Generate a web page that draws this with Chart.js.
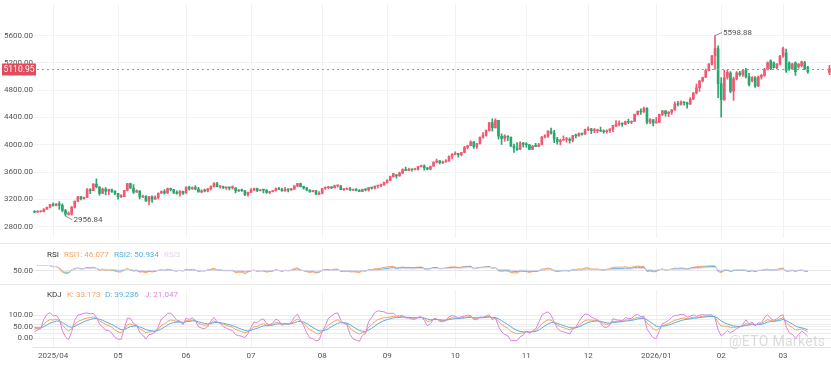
<!DOCTYPE html>
<html>
<head>
<meta charset="utf-8">
<script src="https://cdn.jsdelivr.net/npm/chart.js@4.4.1/dist/chart.umd.min.js"></script>
<style>
  body { margin: 0; background: #fff; font-family: Roboto, Arial, sans-serif; }
  #wrap { position: relative; width: 831px; height: 367px; overflow: hidden; }
  .pane { position: absolute; left: 0; width: 831px; }
  #mainPane { top: 0; height: 243px; border-bottom: 1px solid #e6e6e6; }
  #rsiPane { top: 244px; height: 40px; border-bottom: 1px solid #e6e6e6; }
  #kdjPane { top: 285px; height: 82px; }
  .legend { position: absolute; height: 10px; line-height: 10px; font-size: 8px; white-space: nowrap; }
  .legend span { position: absolute; top: 0; }
  #mark { position: absolute; left: 729px; top: 333px; font-size: 14px; color: rgba(175,175,175,0.45); letter-spacing: 0.3px; }
</style>
</head>
<body>
<div id="wrap">
  <div class="pane" id="mainPane"><canvas id="mainChart"></canvas></div>
  <div class="pane" id="rsiPane"><canvas id="rsiChart"></canvas></div>
  <div class="pane" id="kdjPane"><canvas id="kdjChart"></canvas></div>
  <div class="legend" id="rsiLegend" style="top:250px;left:0;width:300px"></div>
  <div class="legend" id="kdjLegend" style="top:290px;left:0;width:300px"></div>
  <div id="mark">@ETO Markets</div>
</div>
<script>
// daily candles: [day, open, high, low, close]
const m2503 = [
  [24,3023,3036,3004,3011],[25,3011,3035,3011,3019],[26,3019,3032,3012,3019],
  [27,3019,3060,3015,3057],[28,3057,3087,3054,3084],[31,3084,3128,3076,3124]
];
const m2504 = [
  [1,3124,3149,3100,3113],[2,3113,3138,3105,3134],[3,3134,3167,3054,3114],[4,3114,3136,3015,3037],
  [7,3037,3055,2956.84,2982],[8,2982,3018,2970,2982],[9,2982,3099,2970,3083],[10,3083,3176,3073,3175],
  [11,3175,3245,3166,3237],[14,3237,3245,3193,3211],[15,3211,3232,3202,3230],[16,3230,3357,3229,3343],
  [17,3343,3357,3284,3327],[21,3327,3430,3326,3424],[22,3424,3500,3367,3381],[23,3381,3386,3260,3288],
  [24,3288,3367,3287,3349],[25,3349,3371,3266,3319],[28,3319,3350,3268,3344],[29,3344,3352,3300,3317],
  [30,3317,3328,3268,3289]
];
const m2505 = [
  [1,3289,3290,3202,3240],[2,3240,3269,3223,3241],[5,3241,3334,3240,3334],[6,3334,3435,3323,3431],
  [7,3431,3438,3361,3365],[8,3365,3415,3286,3306],[9,3306,3340,3300,3325],[12,3325,3325,3207,3235],
  [13,3235,3264,3225,3249],[14,3249,3252,3171,3178],[15,3178,3245,3121,3240],[16,3240,3252,3154,3203],
  [19,3203,3250,3200,3230],[20,3230,3295,3205,3289],[21,3289,3326,3286,3314],[22,3314,3345,3277,3294],
  [23,3294,3366,3287,3357],[26,3357,3365,3324,3342],[27,3342,3347,3285,3300],[28,3300,3325,3277,3288],
  [29,3288,3330,3245,3318],[30,3318,3322,3271,3289]
];
const m2506 = [
  [2,3289,3382,3289,3381],[3,3381,3392,3333,3353],[4,3353,3385,3345,3374],[5,3374,3403,3339,3352],
  [6,3352,3375,3307,3310],[9,3310,3338,3293,3326],[10,3326,3349,3308,3323],[11,3323,3360,3310,3354],
  [12,3354,3398,3340,3386],[13,3386,3446,3378,3432],[16,3432,3451,3382,3385],[17,3385,3403,3365,3388],
  [18,3388,3395,3362,3369],[19,3369,3375,3347,3369],[20,3369,3374,3340,3368],[23,3368,3398,3348,3368],
  [24,3368,3369,3295,3323],[25,3323,3348,3311,3332],[26,3332,3350,3317,3327],[27,3327,3329,3255,3274],
  [30,3274,3308,3247,3303]
];
const m2507 = [
  [1,3303,3358,3299,3338],[2,3338,3365,3328,3357],[3,3357,3366,3311,3326],[4,3326,3342,3323,3337],
  [7,3337,3342,3296,3335],[8,3335,3345,3287,3301],[9,3301,3317,3282,3313],[10,3313,3330,3310,3325],
  [11,3325,3368,3322,3355],[14,3355,3375,3341,3343],[15,3343,3366,3320,3324],[16,3324,3377,3319,3347],
  [17,3347,3352,3310,3338],[18,3338,3361,3332,3350],[21,3350,3402,3345,3397],[22,3397,3433,3383,3431],
  [23,3431,3438,3381,3387],[24,3387,3394,3351,3368],[25,3368,3373,3324,3337],[28,3337,3345,3301,3314],
  [29,3314,3334,3308,3326],[30,3326,3334,3268,3275],[31,3275,3315,3268,3289]
];
const m2508 = [
  [1,3289,3363,3281,3363],[4,3363,3385,3347,3373],[5,3373,3390,3353,3380],[6,3380,3385,3358,3368],
  [7,3368,3408,3366,3397],[8,3397,3409,3380,3398],[11,3398,3404,3342,3342],[12,3342,3358,3331,3348],
  [13,3348,3370,3345,3355],[14,3355,3375,3330,3336],[15,3336,3346,3331,3336],[18,3336,3358,3323,3332],
  [19,3332,3345,3311,3315],[20,3315,3350,3312,3348],[21,3348,3351,3325,3339],[22,3339,3378,3321,3371],
  [25,3371,3376,3350,3365],[26,3365,3393,3352,3393],[27,3393,3398,3369,3397],[28,3397,3423,3385,3416],
  [29,3416,3453,3405,3448]
];
const m2509 = [
  [1,3448,3490,3436,3476],[2,3476,3540,3475,3533],[3,3533,3578,3525,3578],[4,3559,3564,3511,3545],
  [5,3545,3600,3541,3587],[8,3587,3647,3578,3636],[9,3636,3674,3622,3625],[10,3625,3658,3620,3641],
  [11,3641,3645,3613,3634],[12,3634,3656,3632,3643],[15,3643,3685,3627,3679],[16,3679,3703,3675,3689],
  [17,3689,3707,3627,3660],[18,3660,3664,3632,3644],[19,3644,3688,3630,3685],[22,3685,3749,3683,3746],
  [23,3746,3791,3735,3763],[24,3763,3768,3718,3736],[25,3736,3761,3722,3749],[26,3749,3782,3745,3760],
  [29,3760,3834,3758,3833],[30,3833,3872,3793,3858]
];
const m2510 = [
  [1,3858,3895,3850,3865],[2,3865,3875,3819,3856],[3,3856,3890,3837,3886],[6,3886,3977,3885,3960],
  [7,3960,3990,3940,3985],[8,3985,4059,3985,4041],[9,4041,4045,3945,3976],[10,3976,4022,3947,4018],
  [13,4018,4116,4009,4110],[14,4110,4180,4096,4142],[15,4142,4218,4124,4208],[16,4208,4326,4200,4326],
  [17,4326,4380,4200,4251],[20,4251,4381,4242,4356],[21,4356,4358,4083,4125],[22,4125,4161,4004,4094],
  [23,4094,4147,4054,4126],[24,4126,4132,4060,4112],[27,4112,4114,3971,3982],[28,3982,4010,3886,3952],
  [29,3952,4030,3916,3931],[30,3931,4045,3929,4025],[31,4025,4034,3964,4003]
];
const m2511 = [
  [3,4003,4030,3962,4000],[4,4000,4005,3928,3932],[5,3932,3990,3929,3980],[6,3980,4020,3970,3977],
  [7,3977,4020,3973,4000],[10,4000,4120,3996,4115],[11,4115,4149,4100,4127],[12,4127,4209,4107,4195],
  [13,4195,4245,4155,4171],[14,4171,4211,4032,4080],[17,4080,4110,4010,4045],[18,4045,4083,3997,4066],
  [19,4066,4132,4063,4077],[20,4077,4110,4038,4078],[21,4078,4100,4022,4065],[24,4065,4137,4042,4135],
  [25,4135,4156,4099,4130],[26,4130,4175,4127,4163],[27,4163,4168,4140,4156],[28,4156,4229,4152,4218]
];
const m2512 = [
  [1,4218,4264,4205,4230],[2,4230,4241,4163,4205],[3,4205,4241,4177,4205],[4,4205,4228,4175,4208],
  [5,4208,4259,4195,4198],[8,4198,4218,4170,4190],[9,4190,4218,4170,4208],[10,4208,4237,4180,4228],
  [11,4228,4285,4190,4280],[12,4280,4353,4265,4300],[15,4300,4350,4275,4305],[16,4305,4320,4270,4303],
  [17,4303,4345,4293,4338],[18,4338,4375,4310,4330],[19,4330,4350,4308,4340],[22,4340,4448,4338,4445],
  [23,4445,4497,4438,4490],[24,4490,4525,4445,4480],[26,4480,4550,4475,4532],[29,4532,4545,4305,4330],
  [30,4330,4385,4310,4370],[31,4370,4370,4275,4320]
];
const m2601 = [
  [2,4320,4402,4315,4330],[5,4330,4450,4325,4445],[6,4445,4500,4425,4495],[7,4495,4500,4420,4455],
  [8,4455,4485,4410,4478],[9,4478,4515,4445,4510],[12,4510,4630,4505,4597],[13,4597,4635,4570,4590],
  [14,4590,4642,4580,4625],[15,4625,4630,4580,4615],[16,4615,4625,4535,4595],[19,4595,4690,4590,4670],
  [20,4670,4765,4660,4760],[21,4760,4888,4745,4835],[22,4835,4940,4780,4935],[23,4935,4990,4920,4985],
  [26,4985,5110,4990,5085],[27,5085,5190,5080,5180],[28,5180,5310,5165,5300],[29,5300,5598.88,5105,5410],
  [30,5410,5450,4690,4895]
];
const m2602 = [
  [2,4895,4985,4403,4660],[3,4660,5090,4650,4985],[4,4990,5095,4960,5060],[5,5050,5070,4760,4785],
  [6,4785,4990,4650,4965],[9,4965,5070,4950,5055],[10,5055,5075,5005,5025],[11,5025,5100,5000,5085],
  [12,5095,5120,4980,4995],[13,5000,5045,4860,4880],[16,4940,5000,4920,4985],[17,4985,5000,4840,4860],
  [18,4860,5010,4850,4990],[19,4990,5030,4960,5015],[20,5015,5120,5000,5105],[23,5105,5215,5095,5200],
  [24,5230,5245,5100,5115],[25,5200,5215,5120,5130],[26,5130,5190,5110,5180],[27,5180,5310,5170,5295]
];
const m2603 = [
  [2,5300,5430,5280,5410],[3,5345,5400,5060,5090],[4,5200,5215,5090,5115],[5,5115,5195,5100,5180],
  [6,5200,5215,5015,5070],[9,5140,5190,5120,5180],[10,5160,5225,5140,5215],[11,5205,5222,5100,5115],
  [12,5135,5150,5050,5068],[13],[16],[17],[18],[19],[20],[23,5060,5165,5025,5110.95]
];
const monthBlocks = [
  ['2025-03', m2503], ['2025-04', m2504], ['2025-05', m2505], ['2025-06', m2506], ['2025-07', m2507],
  ['2025-08', m2508], ['2025-09', m2509], ['2025-10', m2510], ['2025-11', m2511], ['2025-12', m2512],
  ['2026-01', m2601], ['2026-02', m2602], ['2026-03', m2603]
];
const monthLabels = ['2025/04', '05', '06', '07', '08', '09', '10', '11', '12', '2026/01', '02', '03'];
const priceTicks = [2800, 3200, 3600, 4000, 4400, 4800, 5200, 5600];
const rsiTicks = [50];
const kdjTicks = [0, 20, 40, 50, 60, 80, 100];
const kdjLabelTicks = [0, 50, 100];
const rsiLegend = [['RSI', '#333', 47], ['RSI1: 46.077', '#F2A35E', 64], ['RSI2: 50.934', '#5AAEE0', 114], ['RSI3', '#E6D3E9', 164]];
const kdjLegend = [['KDJ', '#333', 47], ['K: 33.173', '#F2A35E', 67], ['D: 39.236', '#5AAEE0', 105], ['J: 21.047', '#DB86DA', 145]];

const UP = '#EF5A72';
const DOWN = '#27A86E';
const ORANGE = '#F2A35E', BLUE = '#5AAEE0', PINK = '#DB86DA', RSI3C = '#E6D3E9';

const dates = [], opens = [], highs = [], lows = [], closes = [], monthStarts = [];
monthBlocks.forEach(([ym, rows]) => {
  rows.forEach(r => {
    if (dates.length && ym !== dates[dates.length - 1].slice(0, 7)) {
      if (!monthStarts.length || dates[monthStarts[monthStarts.length - 1]].slice(0, 7) !== ym) monthStarts.push(dates.length);
    }
    dates.push(ym + '-' + String(r[0]).padStart(2, '0'));
    opens.push(r.length > 1 ? r[1] : null);
    highs.push(r.length > 1 ? r[2] : null);
    lows.push(r.length > 1 ? r[3] : null);
    closes.push(r.length > 1 ? r[4] : null);
  });
});

// indicators from the candles
function rsi(n) {
  let up = 0, dn = 0, prev = null;
  return closes.map(c => {
    if (c == null) return null;
    if (prev == null) { prev = c; return null; }
    const d = c - prev; prev = c;
    up = (Math.max(d, 0) + (n - 1) * up) / n;
    dn = (Math.abs(d) + (n - 1) * dn) / n;
    return dn ? up / dn * 100 : 50;
  });
}
function kdj(n) {
  let k = 50, d = 50;
  const K = [], D = [], J = [];
  closes.forEach((c, i) => {
    if (c == null) { K.push(null); D.push(null); J.push(null); return; }
    let hh = -Infinity, ll = Infinity;
    for (let j = Math.max(0, i - n + 1); j <= i; j++) {
      if (highs[j] == null) continue;
      hh = Math.max(hh, highs[j]); ll = Math.min(ll, lows[j]);
    }
    const rsv = hh === ll ? 50 : (c - ll) / (hh - ll) * 100;
    k = (2 * k + rsv) / 3; d = (2 * d + k) / 3;
    K.push(k); D.push(d); J.push(3 * k - 2 * d);
  });
  return [K, D, J];
}
const rsi1 = rsi(6), rsi2 = rsi(12), rsi3 = rsi(24);
const [kLine, dLine, jLine] = kdj(9);

function fillLegend(id, items) {
  const el = document.getElementById(id);
  items.forEach(([t, c, x]) => {
    const s = document.createElement('span');
    s.textContent = t; s.style.color = c; s.style.left = x + 'px';
    el.appendChild(s);
  });
}
fillLegend('rsiLegend', rsiLegend);
fillLegend('kdjLegend', kdjLegend);

Chart.defaults.font.family = 'Roboto, Arial, sans-serif';
Chart.defaults.font.size = 8;
Chart.defaults.color = '#555';

function xScale(showLabels) {
  return {
    type: 'category',
    offset: true,
    grid: { offset: false, color: '#f1f1f1', drawTicks: false },
    border: { display: showLabels, color: '#e4e4e4' },
    afterBuildTicks: ax => { ax.ticks = monthStarts.map(i => ({ value: i })); },
    ticks: { display: showLabels, autoSkip: false, maxRotation: 0, padding: 4, callback: (v, i) => monthLabels[i] },
    afterFit: ax => { ax.height = showLabels ? 20 : 0; }
  };
}
function yScale(min, max, ticks, grid, labelFn) {
  return {
    position: 'left', min: min, max: max,
    afterBuildTicks: ax => { ax.ticks = ticks.map(v => ({ value: v })); },
    grid: { color: grid, drawTicks: false },
    border: { display: false },
    ticks: { padding: 0, autoSkip: false, callback: labelFn },
    afterFit: ax => { ax.width = 33; }
  };
}
const base = {
  animation: false, responsive: true, maintainAspectRatio: false, events: [],
  layout: { padding: 0 },
  plugins: { legend: { display: false }, tooltip: { enabled: false } }
};
const candleColor = ctx => closes[ctx.dataIndex] >= opens[ctx.dataIndex] ? UP : DOWN;

const priceMarks = {
  id: 'priceMarks',
  afterDatasetsDraw(chart) {
    const { ctx, scales: { x, y } } = chart;
    let hi = 0, lo = 0;
    highs.forEach((h, i) => { if (h != null && h > highs[hi]) hi = i; });
    lows.forEach((l, i) => { if (l != null && l < lows[lo]) lo = i; });
    ctx.save();
    ctx.font = '8px Roboto, Arial, sans-serif';
    ctx.strokeStyle = '#8c8c8c'; ctx.fillStyle = '#555'; ctx.lineWidth = 1;
    ctx.textBaseline = 'middle'; ctx.textAlign = 'left';
    let px = x.getPixelForValue(hi), py = y.getPixelForValue(highs[hi]);
    ctx.beginPath(); ctx.moveTo(px, py); ctx.lineTo(px + 7, py - 3); ctx.stroke();
    ctx.fillText(highs[hi].toFixed(2), px + 8, py - 3);
    px = x.getPixelForValue(lo); py = y.getPixelForValue(lows[lo]);
    ctx.beginPath(); ctx.moveTo(px, py); ctx.lineTo(px + 7, py + 4); ctx.stroke();
    ctx.fillText(lows[lo].toFixed(2), px + 8, py + 4);
    ctx.restore();
  },
  afterDraw(chart) {
    const { ctx, scales: { y }, chartArea } = chart;
    let last = null;
    closes.forEach(c => { if (c != null) last = c; });
    const py = Math.round(y.getPixelForValue(last)) + 0.5;
    ctx.save();
    ctx.strokeStyle = '#EC7487'; ctx.lineWidth = 1; ctx.setLineDash([2, 3]);
    ctx.beginPath(); ctx.moveTo(chartArea.left + 4, py); ctx.lineTo(chartArea.right, py); ctx.stroke();
    ctx.setLineDash([]);
    ctx.fillStyle = '#E14B5C';
    ctx.fillRect(2, py - 6, 34, 12);
    ctx.fillStyle = '#fff'; ctx.font = '8.5px Roboto, Arial, sans-serif';
    ctx.textAlign = 'center'; ctx.textBaseline = 'middle';
    ctx.fillText(last.toFixed(2), 19, py + 0.5);
    ctx.restore();
  }
};

new Chart(document.getElementById('mainChart'), {
  type: 'bar',
  data: {
    labels: dates,
    datasets: [
      { data: dates.map((d, i) => highs[i] == null ? null : [lows[i], highs[i]]), backgroundColor: candleColor,
        barThickness: 1, grouped: false, order: 2 },
      { data: dates.map((d, i) => opens[i] == null ? null : [opens[i], closes[i]]), backgroundColor: candleColor,
        barThickness: 2, minBarLength: 1, grouped: false, order: 1 }
    ]
  },
  options: Object.assign({}, base, {
    scales: {
      x: xScale(false),
      y: yScale(2631, 6050, priceTicks, '#f3f3f3', v => v.toFixed(2))
    }
  }),
  plugins: [priceMarks]
});

function lineSet(data, color) {
  return { data: data, borderColor: color, borderWidth: 1, pointRadius: 0, spanGaps: false, tension: 0 };
}

new Chart(document.getElementById('rsiChart'), {
  type: 'line',
  data: { labels: dates, datasets: [lineSet(rsi3, RSI3C), lineSet(rsi2, BLUE), lineSet(rsi1, ORANGE)] },
  options: Object.assign({}, base, {
    scales: {
      x: xScale(false),
      y: yScale(-28.6, 257, rsiTicks, '#e8e8e8', v => v.toFixed(2))
    }
  })
});

new Chart(document.getElementById('kdjChart'), {
  type: 'line',
  data: { labels: dates, datasets: [lineSet(jLine, PINK), lineSet(dLine, BLUE), lineSet(kLine, ORANGE)] },
  options: Object.assign({}, base, {
    scales: {
      x: xScale(true),
      y: yScale(-37.5, 209.6, kdjTicks, '#ececec', v => kdjLabelTicks.includes(v) ? v.toFixed(2) : '')
    }
  })
});
</script>
</body>
</html>
